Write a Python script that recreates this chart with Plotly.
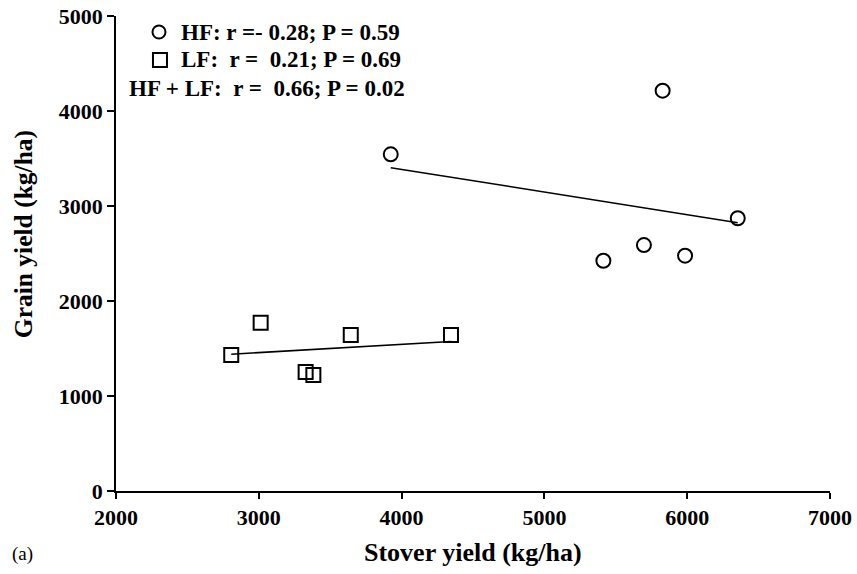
import numpy as np
import plotly.graph_objects as go

# Data
hf_stover = [3924, 5828, 6354, 5413, 5697, 5985]
hf_grain = [3544, 4214, 2871, 2424, 2589, 2477]
lf_stover = [3013, 2807, 3644, 4346, 3328, 3382]
lf_grain = [1772, 1432, 1642, 1642, 1253, 1221]
legend_texts = [
    "HF: r =- 0.28; P = 0.59",
    "LF:  r =  0.21; P = 0.69",
    "HF + LF:  r =  0.66; P = 0.02",
]
x_ticks = [2000, 3000, 4000, 5000, 6000, 7000]
y_ticks = [0, 1000, 2000, 3000, 4000, 5000]

FONT = "Liberation Serif, Times New Roman, serif"


def fit_line(x, y):
    k, b = np.polyfit(x, y, 1)
    xs = np.array([min(x), max(x)])
    return xs, k * xs + b


fig = go.Figure()

for xs, ys, sym in [(hf_stover, hf_grain, "circle-open"), (lf_stover, lf_grain, "square-open")]:
    lx, ly = fit_line(xs, ys)
    fig.add_trace(go.Scatter(x=lx, y=ly, mode="lines",
                             line=dict(color="black", width=1.5),
                             showlegend=False, hoverinfo="skip"))
    fig.add_trace(go.Scatter(x=xs, y=ys, mode="markers",
                             marker=dict(symbol=sym, size=14, color="black",
                                         line=dict(color="black", width=2)),
                             showlegend=False))

# Legend block as text + marker shapes
rows_y = [0.9663, 0.9074, 0.8484]
rows_x = [0.4006, 0.402, 0.4076]
for t, xx, yy in zip(legend_texts, rows_x, rows_y):
    fig.add_annotation(xref="paper", yref="paper", x=xx, y=yy,
                       text="<b>" + t.replace("  ", "&nbsp; ") + "</b>",
                       showarrow=False, xanchor="right", yanchor="middle",
                       font=dict(family=FONT, size=23, color="black"))
fig.add_shape(type="circle", xref="paper", yref="paper", xsizemode="pixel", ysizemode="pixel",
              xanchor=0.0602, yanchor=rows_y[0], x0=-6.5, x1=6.5, y0=-6.5, y1=6.5,
              line=dict(color="black", width=2))
fig.add_shape(type="rect", xref="paper", yref="paper", xsizemode="pixel", ysizemode="pixel",
              xanchor=0.0616, yanchor=rows_y[1], x0=-7, x1=7, y0=-7, y1=7,
              line=dict(color="black", width=2))

fig.add_annotation(xref="paper", yref="paper", x=0.4993, y=-0.13, text="<b>Stover yield (kg/ha)</b>",
                   showarrow=False, xanchor="center", yanchor="middle",
                   font=dict(family=FONT, size=26, color="black"))
fig.add_annotation(xref="paper", yref="paper", x=-0.130, y=0.541, text="<b>Grain yield (kg/ha)</b>",
                   showarrow=False, xanchor="center", yanchor="middle", textangle=-90,
                   font=dict(family=FONT, size=25.5, color="black"))
fig.add_annotation(xref="paper", yref="paper", x=-0.1485, y=-0.132, text="(a)",
                   showarrow=False, xanchor="left", yanchor="middle",
                   font=dict(family=FONT, size=19, color="black"))

fig.update_xaxes(range=[2000, 7000], tickvals=x_ticks, ticktext=["<b>%d</b>" % v for v in x_ticks],
                 showline=True, linecolor="black", linewidth=2, ticks="outside", ticklen=6,
                 tickwidth=2, tickcolor="black", showgrid=False, zeroline=False,
                 tickfont=dict(family=FONT, size=22, color="black"))
fig.update_yaxes(range=[0, 5000], tickvals=y_ticks, ticktext=["<b>%d</b>" % v for v in y_ticks],
                 showline=True, linecolor="black", linewidth=1.5, ticks="outside", ticklen=7,
                 tickwidth=1.5, tickcolor="black", showgrid=False, zeroline=False,
                 tickfont=dict(family=FONT, size=22, color="black"))

fig.update_layout(width=857, height=574,
                  margin=dict(l=116, r=27, t=16, b=83, autoexpand=False),
                  plot_bgcolor="white", paper_bgcolor="white", showlegend=False)

fig.write_html("out.html", config={"displayModeBar": False},
               post_script="document.body.style.margin='0';document.body.style.overflow='hidden';")
